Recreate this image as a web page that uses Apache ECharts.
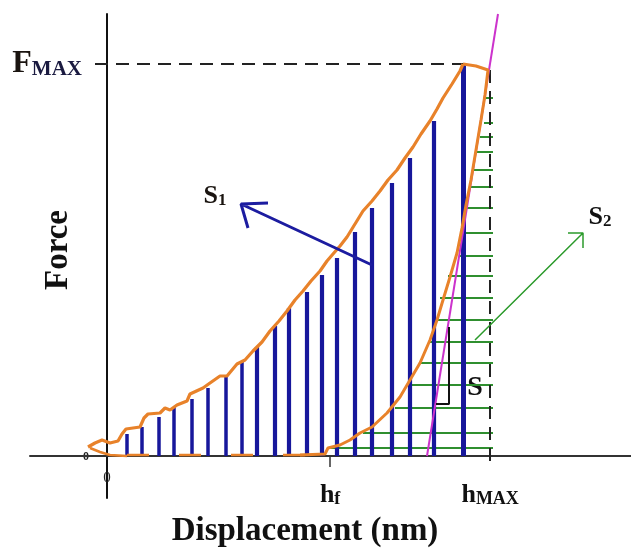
<!DOCTYPE html>
<html>
<head>
<meta charset="utf-8">
<title>Force - Displacement</title>
<script src="https://cdn.jsdelivr.net/npm/echarts@6/dist/echarts.min.js"></script>
<style>
  html, body { margin: 0; padding: 0; background: #fff; }
  #chart { width: 631px; height: 548px; }
</style>
</head>
<body>
<div id="chart"></div>
<script>
// values (displacement / force, arbitrary units)
var hMax = 383
var hF = 223
var fMax = 392

var loadCurve = [
  [-19, 9], [-12, 13], [-5, 16], [3, 13], [11, 15], [15, 22], [19, 27], [33, 29],
  [37, 38], [41, 42], [53, 43], [58, 48], [63, 46], [70, 51], [80, 55], [83, 62],
  [96, 68], [103, 73], [113, 80], [120, 80], [130, 92], [138, 96], [146, 105],
  [155, 114], [163, 125], [172, 135], [180, 145], [188, 156], [196, 165], [204, 175],
  [213, 185], [220, 195], [226, 202], [233, 210], [240, 219], [248, 232], [256, 245],
  [265, 255], [273, 265], [281, 276], [290, 286], [298, 298], [306, 309], [314, 322],
  [323, 335], [330, 347], [336, 358], [345, 372], [353, 385], [356, 392]
]
var unloadCurve = [
  [356, 392], [369, 390], [381, 386], [378, 361], [374, 336], [369, 306], [364, 276],
  [359, 251], [355, 228], [350, 203], [343, 179], [336, 156], [330, 136], [323, 116],
  [313, 93], [303, 76], [293, 59], [280, 43], [265, 29], [253, 23], [243, 16],
  [233, 11], [221, 8], [218, 2], [193, 1]
]
var returnTrace = [[-17, 8], [-7, 4], [3, 1], [20, 0]]
var baseTrace = [[20, 1], [218, 1]]

// S1 hatching (vertical bars under the loading curve)
var hatchX = [20, 35, 52, 67, 85, 101, 119, 135, 150, 168, 182, 200, 215, 230, 248, 265, 285, 303, 327, 356]
var hatchTop = [22, 29, 39, 49, 57, 68, 80, 95, 109, 130, 148, 164, 181, 198, 224, 248, 273, 298, 335, 393]

// S2 hatching (horizontal lines from unloading curve to hMax)
var hatchY = [358, 333, 319, 304, 286, 269, 248, 223, 200, 180, 158, 136, 114, 93, 71, 48, 23, 8]
var hatchLeft = [379, 377, 373, 370, 366, 363, 360, 356, 353, 341, 333, 328, 321, 313, 303, 288, 256, 223]

var tangentLine = [[320, 0], [391, 442]]
var stiffBracket = [[342, 129], [342, 52], [329, 52]]
var s1Arrow = [[265, 191], [134, 252], [161, 253], [134, 252], [141, 228]]
var s2Arrow = [[368, 116], [476, 223], [461, 223], [476, 223], [476, 208]]

var xTickValues = [0, hF, hMax]
var xTickLabels = [['0', ''], ['h', 'f'], ['h', 'MAX']]
var yTickValues = [fMax]
var yTickLabels = [['F', 'MAX']]

var serif = '"Liberation Serif", "DejaVu Serif", serif'
var orange = '#e8822a'
var blue = '#17179b'
var green = '#2f8f2f'

var chart = echarts.init(document.getElementById('chart'))

function plain(data, color, width, type, z) {
  return {
    type: 'line',
    data: data,
    symbol: 'none',
    showSymbol: false,
    silent: true,
    z: z || 2,
    lineStyle: { color: color, width: width, type: type || 'solid', opacity: 1 }
  }
}

// grid spans the whole picture; the axis lines sit on zero
var option = {
  animation: false,
  backgroundColor: '#fff',
  grid: { left: 30, right: 0, top: 14, bottom: 50, outerBoundsMode: 'none' },
  xAxis: {
    type: 'value',
    min: -77,
    max: 524,
    axisLine: { show: true, onZero: true, lineStyle: { color: '#333', width: 2 } },
    axisTick: { show: true, customValues: [hF], length: 11, lineStyle: { color: '#333', width: 1.5 } },
    splitLine: { show: false },
    axisLabel: {
      show: true,
      customValues: xTickValues,
      margin: -30,
      formatter: function(v) {
        var i = xTickValues.indexOf(v)
        if (i === 0) return '{z|' + xTickLabels[i][0] + '}'
        return '{p| }{h|' + xTickLabels[i][0] + '}{s|' + xTickLabels[i][1] + '}'
      },
      rich: {
        z: { fontSize: 15, fontFamily: serif, color: '#222', lineHeight: 20 },
        p: { fontSize: 1, lineHeight: 40 },
        h: { fontSize: 26, fontWeight: 'bold', fontFamily: serif, color: '#111', lineHeight: 26, verticalAlign: 'bottom' },
        s: { fontSize: 18, fontWeight: 'bold', fontFamily: serif, color: '#111', lineHeight: 20, verticalAlign: 'bottom' }
      }
    }
  },
  yAxis: {
    type: 'value',
    min: -42,
    max: 442,
    axisLine: { show: true, onZero: true, lineStyle: { color: '#111', width: 2 } },
    axisTick: { show: false },
    splitLine: { show: false },
    axisLabel: {
      show: true,
      customValues: yTickValues,
      margin: -52,
      formatter: function(v) {
        var t = yTickLabels[yTickValues.indexOf(v)]
        return '{F|' + t[0] + '}{m|' + t[1] + '}'
      },
      rich: {
        F: { fontSize: 32, fontWeight: 'bold', fontFamily: serif, color: '#1a1410', lineHeight: 32, verticalAlign: 'bottom' },
        m: { fontSize: 21, fontWeight: 'bold', fontFamily: serif, color: '#1a1a40', lineHeight: 23, verticalAlign: 'bottom' }
      }
    }
  },
  graphic: [
    { type: 'text', x: 58, y: 250, rotation: Math.PI / 2,
      style: { text: 'Force', font: 'bold 33px ' + serif, fill: '#111', align: 'center', verticalAlign: 'middle' } },
    { type: 'text', x: 305, y: 531,
      style: { text: 'Displacement (nm)', font: 'bold 33px ' + serif, fill: '#111', align: 'center', verticalAlign: 'middle' } },
    { type: 'text', x: 86, y: 457,
      style: { text: '0', font: 'bold 12px ' + serif, fill: '#222', align: 'center', verticalAlign: 'middle' } },
    { type: 'text', x: 215, y: 196,
      style: { text: '{a|S}{b|1}', align: 'center', verticalAlign: 'middle',
        rich: { a: { font: 'bold 26px ' + serif, fill: '#1a1410', verticalAlign: 'bottom', lineHeight: 26 },
                b: { font: 'bold 17px ' + serif, fill: '#1a1410', verticalAlign: 'bottom', lineHeight: 20 } } } },
    { type: 'text', x: 600, y: 217,
      style: { text: '{a|S}{b|2}', align: 'center', verticalAlign: 'middle',
        rich: { a: { font: 'bold 26px ' + serif, fill: '#111', verticalAlign: 'bottom', lineHeight: 26 },
                b: { font: 'bold 17px ' + serif, fill: '#111', verticalAlign: 'bottom', lineHeight: 20 } } } },
    { type: 'text', x: 475, y: 388,
      style: { text: 'S', font: 'bold 28px ' + serif, fill: '#111', align: 'center', verticalAlign: 'middle' } }
  ],
  series: [
    {
      type: 'lines',
      coordinateSystem: 'cartesian2d',
      silent: true,
      z: 2,
      lineStyle: { color: green, width: 2, opacity: 1 },
      data: hatchY.map(function(y, i) {
        return { coords: [[hatchLeft[i], y], [hMax + 3, y]] }
      })
    },
    {
      type: 'lines',
      coordinateSystem: 'cartesian2d',
      silent: true,
      z: 3,
      lineStyle: { color: blue, width: 4, opacity: 1 },
      data: hatchX.map(function(x, i) {
        var w = i < 8 ? 3.5 : (i === hatchX.length - 1 ? 5 : 4.2)
        return { coords: [[x, 0], [x, hatchTop[i]]], lineStyle: { width: w } }
      })
    },
    plain([[-12, fMax], [356, fMax]], '#222', 2, [13, 8], 4),
    plain([[hMax, 386], [hMax, -11]], '#222', 2, [13, 8], 4),
    plain(tangentLine, '#cc33cc', 2, 'solid', 5),
    plain(baseTrace, orange, 2.5, [22, 30], 5),
    plain(returnTrace, orange, 2.5, 'solid', 6),
    plain(unloadCurve, orange, 3, 'solid', 6),
    plain(loadCurve, orange, 3.2, 'solid', 6),
    plain(stiffBracket, '#111', 2, 'solid', 7),
    plain(s1Arrow, '#1c1ca0', 3, 'solid', 7),
    plain(s2Arrow, '#2b9a2b', 1.5, 'solid', 7)
  ]
}

chart.setOption(option)
</script>
</body>
</html>
